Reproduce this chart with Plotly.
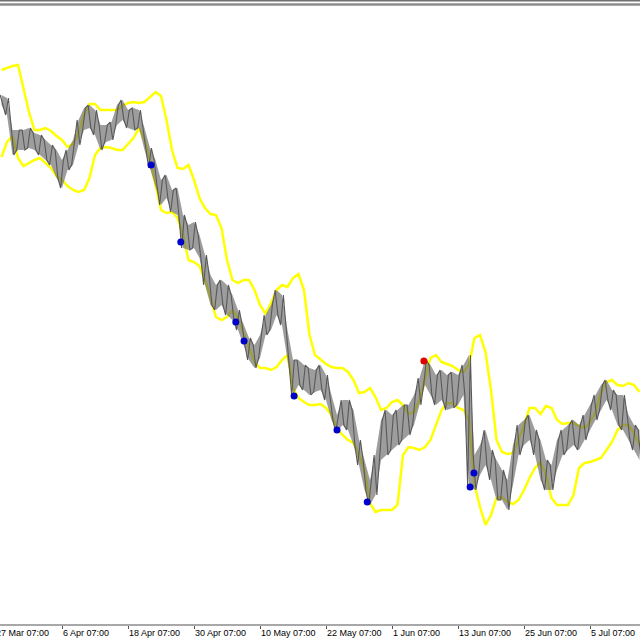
import plotly.graph_objects as go

# ---- data (bar index, price in chart units) ----
tick_labels = ["27 Mar 07:00", "6 Apr 07:00", "18 Apr 07:00", "30 Apr 07:00", "10 May 07:00",
               "22 May 07:00", "1 Jun 07:00", "13 Jun 07:00", "25 Jun 07:00", "5 Jul 07:00"]
tick_index = [0, 12, 24, 36, 48, 60, 72, 84, 96, 108]

price_high = [545, 542, 510, 510, 510, 512, 507, 505, 500, 495, 490, 480, 490, 500, 520, 532, 535, 530, 515, 515,
              518, 535, 540, 530, 532, 530, 512, 492, 480, 460, 465, 450, 452, 425, 415, 418, 405, 385, 365, 355,
              360, 355, 345, 330, 315, 302, 295, 305, 325, 335, 350, 345, 310, 280, 280, 275, 272, 270, 275, 265,
              245, 225, 240, 240, 230, 200, 180, 160, 185, 220, 230, 225, 230, 235, 235, 245, 262, 280, 275, 265,
              270, 265, 268, 265, 275, 285, 185, 195, 210, 190, 180, 170, 160, 195, 215, 220, 225, 210, 200, 180,
              175, 200, 210, 215, 220, 215, 225, 235, 245, 255, 260, 250, 245, 245, 225, 215, 210]
price_low = [535, 525, 485, 490, 490, 492, 490, 485, 480, 475, 462, 452, 470, 475, 495, 510, 512, 505, 490, 498,
             500, 515, 520, 512, 510, 512, 490, 472, 455, 435, 442, 428, 425, 392, 390, 392, 382, 355, 335, 330,
             335, 325, 320, 310, 295, 280, 272, 282, 305, 310, 325, 315, 280, 245, 255, 250, 245, 248, 250, 240,
             220, 208, 215, 210, 195, 175, 150, 135, 145, 180, 185, 190, 195, 200, 205, 215, 235, 255, 245, 235,
             240, 230, 232, 235, 245, 155, 150, 165, 175, 160, 140, 140, 130, 155, 185, 195, 200, 185, 160, 150,
             150, 170, 185, 190, 195, 190, 200, 210, 220, 230, 240, 230, 215, 210, 200, 190, 180]
band_upper = [570, 572, 574, 575, 552, 528, 510, 510, 512, 509, 504, 500, 493, 496, 507, 525, 536, 536, 530, 530,
              530, 530, 534, 537, 538, 537, 538, 543, 548, 544, 520, 490, 472, 471, 475, 460, 442, 432, 426, 425,
              412, 380, 360, 357, 360, 360, 350, 335, 326, 337, 350, 355, 353, 362, 366, 350, 305, 285, 280, 276,
              273, 272, 272, 268, 260, 247, 248, 252, 243, 230, 232, 238, 240, 235, 226, 228, 240, 262, 282, 285,
              278, 276, 274, 270, 268, 275, 302, 305, 288, 250, 200, 188, 186, 187, 200, 215, 232, 232, 226, 234,
              232, 220, 216, 217, 217, 214, 212, 218, 228, 248, 258, 260, 255, 254, 257, 255, 248]
band_lower = [483, 498, 504, 482, 474, 477, 480, 482, 477, 472, 464, 460, 454, 450, 448, 450, 462, 485, 492, 493,
              492, 490, 490, 496, 502, 512, 500, 480, 455, 430, 427, 428, 422, 405, 380, 378, 374, 360, 342, 323,
              320, 323, 330, 322, 307, 292, 278, 272, 272, 270, 273, 280, 285, 252, 242, 238, 235, 235, 236, 232,
              225, 212, 205, 200, 197, 185, 170, 137, 128, 130, 130, 130, 135, 185, 193, 192, 190, 193, 200, 215,
              230, 237, 237, 232, 230, 220, 155, 133, 115, 125, 142, 143, 138, 136, 140, 150, 162, 172, 178, 165,
              142, 135, 135, 135, 145, 172, 177, 178, 180, 182, 190, 198, 210, 215, 215, 207, 195]

buy_index = [28.2, 33.6, 43.6, 45.1, 54.2, 62.0, 67.5, 86.2, 86.9]
buy_price = [475, 398, 318, 299, 244, 210, 138, 153, 167]
sell_index = [77.8]
sell_price = [279]

# ---- build figure ----
idx = list(range(1, len(price_high) + 1))

# jagged price path: each bar visits its high and its low
zig_x, zig_y = [], []
for k, (i, h, l) in enumerate(zip(idx, price_high, price_low)):
    zig_x += [i - 0.25, i + 0.25]
    zig_y += [h, l] if k % 2 == 0 else [l, h]

fig = go.Figure()
fig.add_trace(go.Scatter(x=idx, y=band_upper, mode="lines",
                         line=dict(color="#ffff00", width=2.5), hoverinfo="skip"))
fig.add_trace(go.Scatter(x=idx, y=band_lower, mode="lines",
                         line=dict(color="#ffff00", width=2.5), hoverinfo="skip"))
# body of the bars: range between low and high
fig.add_trace(go.Scatter(x=idx, y=price_low, mode="lines",
                         line=dict(color="rgba(0,0,0,0)", width=0), hoverinfo="skip"))
fig.add_trace(go.Scatter(x=idx, y=price_high, mode="lines", fill="tonexty",
                         fillcolor="rgba(105,105,105,0.65)",
                         line=dict(color="rgba(0,0,0,0)", width=0), hoverinfo="skip"))
fig.add_trace(go.Scatter(x=zig_x, y=zig_y, mode="lines",
                         line=dict(color="#595959", width=1.1), hoverinfo="skip"))
fig.add_trace(go.Scatter(x=buy_index, y=buy_price, mode="markers",
                         marker=dict(color="#0000cc", size=7), hoverinfo="skip"))
fig.add_trace(go.Scatter(x=sell_index, y=sell_price, mode="markers",
                         marker=dict(color="#e00000", size=7), hoverinfo="skip"))

annotations = []
for t, lab in zip(tick_index, tick_labels):
    if t == 0:
        annotations.append(dict(x=0, y=0, xref="paper", yref="paper", text=lab, showarrow=False,
                                xanchor="left", yanchor="top", yshift=-2, xshift=-6,
                                font=dict(family="Liberation Sans, Arial", size=9, color="#000000")))
    else:
        annotations.append(dict(x=t, y=0, xref="x", yref="paper", text=lab, showarrow=False,
                                xanchor="left", yanchor="top", yshift=-2, xshift=-1,
                                font=dict(family="Liberation Sans, Arial", size=9, color="#000000")))

fig.update_layout(
    width=640, height=640,
    margin=dict(l=0, r=0, t=0, b=16),
    paper_bgcolor="white", plot_bgcolor="white",
    showlegend=False,
    annotations=annotations,
    shapes=[
        dict(type="line", xref="paper", yref="paper", x0=0, x1=1, y0=0.9988, y1=0.9988,
             line=dict(color="#707070", width=1.5)),
        dict(type="line", xref="paper", yref="paper", x0=0, x1=1, y0=0.9928, y1=0.9928,
             line=dict(color="#8c8c8c", width=2.5)),
    ],
)
fig.update_xaxes(range=[0.727, 117.09], showgrid=False, zeroline=False, showline=True,
                 linecolor="#a8a8a8", linewidth=2, ticks="outside", ticklen=3, tickwidth=1,
                 tickcolor="#555555", tickvals=tick_index, showticklabels=False)
fig.update_yaxes(range=[16, 640], visible=False, showgrid=False, zeroline=False)

fig.write_html("out.html", config={"displayModeBar": False},
               post_script="document.body.style.margin='0';document.body.style.overflow='hidden';")
